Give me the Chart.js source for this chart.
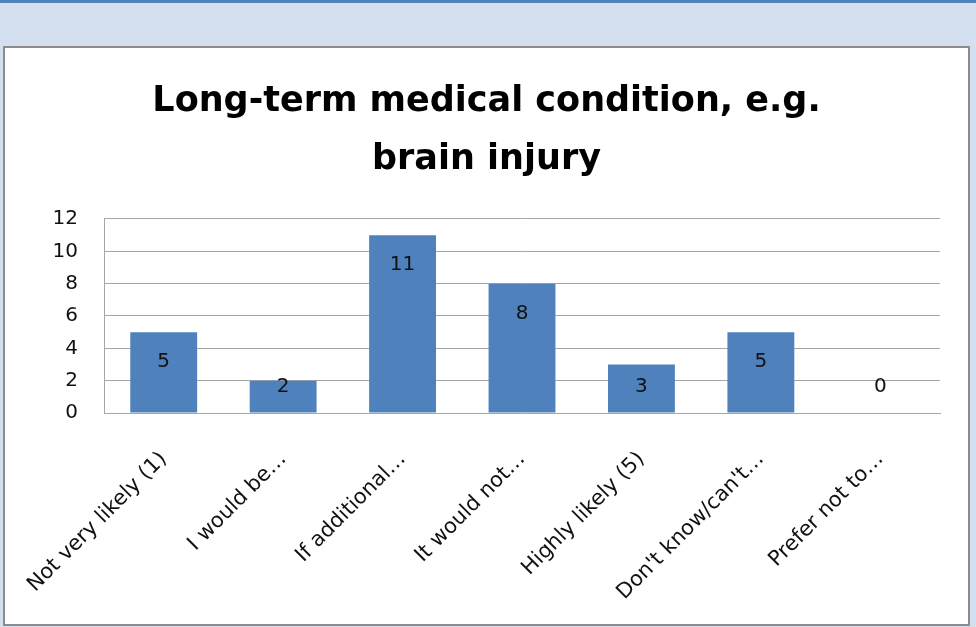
<!DOCTYPE html>
<html>
<head>
<meta charset="utf-8">
<script src="https://cdn.jsdelivr.net/npm/chart.js@4/dist/chart.umd.min.js"></script>
<style>
  html, body { margin: 0; padding: 0; }
  body { width: 976px; height: 627px; background: #d4dfef; position: relative; overflow: hidden; }
  #topline { position: absolute; left: 0; top: 0; width: 976px; height: 3px; background: #4f81bd; }
  #frame { position: absolute; left: 3px; top: 46px; width: 963px; height: 576px; border: 2px solid #8c8c8c; background: #fff; }
  #chart { position: absolute; left: 0; top: 0; }
</style>
</head>
<body>
<div id="topline"></div>
<div id="frame"><canvas id="chart" width="963" height="576"></canvas></div>
<script>
const categories = ["Not very likely (1)", "I would be\u2026", "If additional\u2026", "It would not\u2026", "Highly likely (5)", "Don't know/can't\u2026", "Prefer not to\u2026"];
const counts = [5, 2, 11, 8, 3, 5, 0];
const titleLines = ["Long-term medical condition, e.g.", "brain injury"];

const fontName = "'DejaVu Sans'";

// value labels sit just inside the top of each bar
const valueLabels = {
    id: 'valueLabels',
    afterDatasetsDraw(chart) {
        const {ctx} = chart;
        const meta = chart.getDatasetMeta(0);
        ctx.save();
        ctx.font = "20px " + fontName;
        ctx.fillStyle = "#111";
        ctx.textAlign = "center";
        ctx.textBaseline = "middle";
        meta.data.forEach(function (bar, i) {
            let y = Math.min(bar.y + 30, bar.base - 26);
            ctx.fillText(String(counts[i]), bar.x, y);
        });
        ctx.restore();
    }
};

new Chart(document.getElementById('chart'), {
    type: 'bar',
    data: {
        labels: categories,
        datasets: [{
            data: counts,
            backgroundColor: "#4f81bd",
            barPercentage: 0.56,
            categoryPercentage: 1
        }]
    },
    options: {
        responsive: false,
        animation: false,
        plugins: {
            legend: {display: false},
            tooltip: {enabled: false},
            title: {
                display: true,
                text: titleLines,
                color: "#000",
                font: {family: fontName, size: 35, weight: 'bold', lineHeight: 1.657},
                padding: {top: 25, bottom: 30}
            }
        },
        scales: {
            y: {
                min: 0,
                max: 12,
                ticks: {stepSize: 2, color: "#111", font: {family: fontName, size: 20}, padding: 26},
                grid: {color: "#a6a6a6", drawTicks: false},
                border: {color: "#a6a6a6"},
                afterFit: function (scale) { scale.width = 99; }
            },
            // empty right axis, only keeps the plot clear of the right edge
            y2: {
                position: 'right',
                ticks: {display: false},
                grid: {display: false},
                border: {display: false},
                afterFit: function (scale) { scale.width = 28; }
            },
            x: {
                ticks: {color: "#111", font: {family: fontName, size: 21}, maxRotation: 45, minRotation: 45, padding: 34, autoSkip: false},
                grid: {display: false, drawTicks: false},
                border: {color: "#a6a6a6"},
                afterFit: function (scale) {
                    scale.height = 211;
                    scale.paddingLeft = 0;
                    scale.paddingRight = 0;
                }
            }
        }
    },
    plugins: [valueLabels]
});
</script>
</body>
</html>
